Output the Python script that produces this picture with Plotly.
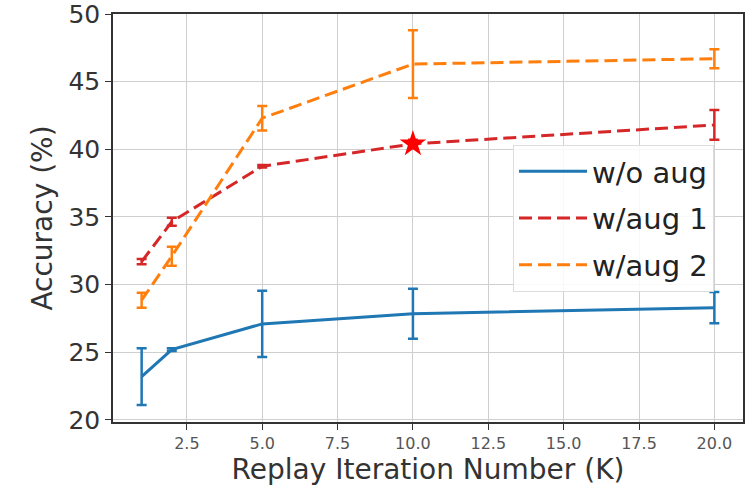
import plotly.graph_objects as go

x_vals = [1, 2, 5, 10, 20]
series_names = ["w/o aug", "w/aug 1", "w/aug 2"]
wo_aug = [23.2, 25.2, 27.1, 27.85, 28.3]
wo_aug_err = [2.1, 0.1, 2.45, 1.85, 1.15]
aug1 = [31.7, 34.65, 38.75, 40.4, 41.8]
aug1_err = [0.2, 0.3, 0.1, 0.3, 1.1]
aug2 = [28.85, 32.1, 42.3, 46.3, 46.7]
aug2_err = [0.55, 0.7, 0.9, 2.5, 0.7]
star_x = [10]
star_y = [40.4]
x_ticks = [2.5, 5.0, 7.5, 10.0, 12.5, 15.0, 17.5, 20.0]
y_ticks = [20, 25, 30, 35, 40, 45, 50]

colors = ["#1f77b4", "#d62728", "#ff7f0e"]
dashes = ["solid", "13px,6px", "13px,6px"]
ys = [wo_aug, aug1, aug2]
errs = [wo_aug_err, aug1_err, aug2_err]

fig = go.Figure()
for i, (name, y, e, c, d) in enumerate(zip(series_names, ys, errs, colors, dashes)):
    fig.add_trace(go.Scatter(
        x=x_vals, y=y, name=name, mode="lines", legendgroup=f"g{i}",
        line=dict(color=c, width=3, dash=d),
        error_y=dict(type="data", array=e, visible=True, color=c, thickness=2.5, width=5),
    ))

fig.add_trace(go.Scatter(
    x=star_x, y=star_y, mode="markers", showlegend=False,
    marker=dict(symbol="star", size=20, color="#ff0000", line=dict(width=0)),
))

axis_common = dict(
    showline=True, linecolor="#333333", linewidth=1.5, mirror=True,
    showgrid=True, gridcolor="#cfcfcf", gridwidth=1,
    ticks="outside", ticklen=6, tickcolor="#333333", tickwidth=1.2,
    zeroline=False, ticklabeloverflow="allow",
)

fig.update_xaxes(
    range=[0.05, 20.95], tickvals=x_ticks, ticktext=[f"{v:.1f}" for v in x_ticks],
    tickfont=dict(family="DejaVu Sans", size=16, color="#555555"),
    title=dict(text="Replay Iteration Number (K)", font=dict(family="DejaVu Sans", size=28, color="#333333"), standoff=6),
    **axis_common,
)
fig.update_yaxes(
    range=[19.85, 50], tickvals=y_ticks,
    tickfont=dict(family="DejaVu Sans", size=25, color="#333333"),
    title=dict(text="Accuracy (%)", font=dict(family="DejaVu Sans", size=28, color="#333333"), standoff=8),
    **axis_common,
)

fig.update_layout(
    width=756, height=492,
    margin=dict(l=113, r=13, t=14, b=70, autoexpand=False),
    plot_bgcolor="white", paper_bgcolor="white",
    font=dict(family="DejaVu Sans", color="#222222"),
    legend=dict(
        x=0.954, y=0.679, xanchor="right", yanchor="top",
        bgcolor="rgba(255,255,255,0.85)", bordercolor="#dddddd", borderwidth=1,
        font=dict(family="DejaVu Sans", size=29, color="#222222"),
        itemwidth=68, traceorder="grouped", tracegroupgap=6,
    ),
    showlegend=True,
)

fig.write_html(
    "out.html",
    config={"displayModeBar": False},
    post_script="document.body.style.margin='0';document.body.style.overflow='hidden';",
)
